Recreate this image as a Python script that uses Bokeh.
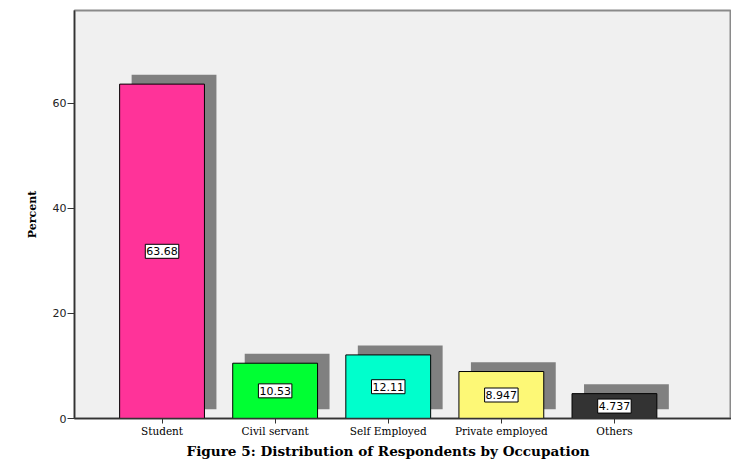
from bokeh.plotting import figure
from bokeh.models import ColumnDataSource, FixedTicker, Range1d, Title
from bokeh.core.properties import value
from bokeh.embed import file_html
from bokeh.resources import INLINE

categories = ["Student", "Civil servant", "Self Employed", "Private employed", "Others"]
percent = [63.68, 10.53, 12.11, 8.947, 4.737]
label_text = ["63.68", "10.53", "12.11", "8.947", "4.737"]
colors = ["#ff3399", "#00ff33", "#00ffcc", "#fdf876", "#333333"]
y_ticks = [0, 20, 40, 60]

xs = list(range(len(categories)))
bar_w = 0.75
shadow_dx = 0.106
shadow_dy = 1.78

src = ColumnDataSource(dict(
    x=xs,
    left=[x - bar_w / 2 for x in xs],
    right=[x + bar_w / 2 for x in xs],
    top=percent,
    bottom=[0] * len(xs),
    sleft=[x - bar_w / 2 + shadow_dx for x in xs],
    sright=[x + bar_w / 2 + shadow_dx for x in xs],
    stop=[v + shadow_dy for v in percent],
    sbottom=[shadow_dy] * len(xs),
    mid=[v / 2 for v in percent],
    lbl=label_text,
    color=colors,
))

p = figure(width=731, height=464, output_backend="svg", toolbar_location=None,
           x_range=Range1d(-0.774, 5.035), y_range=Range1d(0, 77.7),
           min_border_left=74, min_border_top=10, min_border_right=0, min_border_bottom=46)

p.background_fill_color = "#f0f0f0"
p.border_fill_color = "white"
p.outline_line_color = "#8a8a8a"
p.outline_line_width = 2
p.xgrid.visible = False
p.ygrid.visible = False

p.quad(left="sleft", right="sright", top="stop", bottom="sbottom", source=src,
       fill_color="#808080", line_color=None)
p.quad(left="left", right="right", top="top", bottom="bottom", source=src,
       fill_color="color", line_color="black", line_width=1)

p.text(x="x", y="mid", text="lbl", source=src,
       text_align="center", text_baseline="middle",
       text_font=value("DejaVu Sans"), text_font_size="11px", text_color="black",
       background_fill_color="white", border_line_color="black",
       border_line_width=1, padding=(1, 3))

# x axis
p.xaxis.ticker = FixedTicker(ticks=xs)
p.xaxis.major_label_overrides = {i: c for i, c in zip(xs, categories)}
p.xaxis.minor_tick_line_color = None
p.xaxis.major_tick_in = 0
p.xaxis.major_tick_out = 5
p.xaxis.axis_line_color = "#333333"
p.xaxis.axis_line_width = 1.5
p.xaxis.major_tick_line_color = "#333333"
p.xaxis.major_label_text_font = "DejaVu Serif"
p.xaxis.major_label_text_font_size = "10.5px"
p.xaxis.major_label_text_color = "black"
p.xaxis.major_label_standoff = 1

# y axis
p.yaxis.ticker = FixedTicker(ticks=y_ticks)
p.yaxis.minor_tick_line_color = None
p.yaxis.major_tick_in = 0
p.yaxis.major_tick_out = 7
p.yaxis.axis_line_color = "#333333"
p.yaxis.axis_line_width = 1.5
p.yaxis.major_tick_line_color = "#333333"
p.yaxis.major_label_text_font = "DejaVu Sans"
p.yaxis.major_label_text_font_size = "11px"
p.yaxis.major_label_text_color = "#222222"
p.yaxis.major_label_standoff = 1
p.yaxis.axis_label = "Percent"
p.yaxis.axis_label_text_font = "DejaVu Serif"
p.yaxis.axis_label_text_font_style = "bold"
p.yaxis.axis_label_text_font_size = "11px"
p.yaxis.axis_label_text_color = "black"
p.yaxis.axis_label_standoff = 11

cap = Title(text="Figure 5: Distribution of Respondents by Occupation",
            align="left", offset=112, text_font="DejaVu Serif",
            text_font_style="bold", text_font_size="13.6px", text_color="black",
            standoff=2)
p.add_layout(cap, "below")

open("out.html", "w").write(file_html(p, INLINE))
